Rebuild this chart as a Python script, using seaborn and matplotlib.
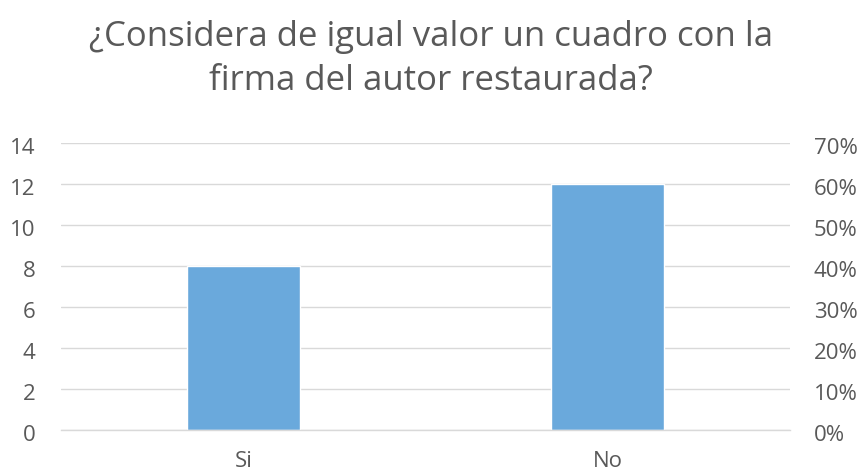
import matplotlib
matplotlib.use("Agg")
import matplotlib.pyplot as plt
import matplotlib.transforms as mtrans
import seaborn as sns
import pandas as pd
from matplotlib.ticker import FuncFormatter

categories = ["Si", "No"]
values = [8, 12]
left_ticks = [0, 2, 4, 6, 8, 10, 12, 14]
right_ticks = [0, 10, 20, 30, 40, 50, 60, 70]
title_lines = ["¿Considera de igual valor un cuadro con la", "firma del autor restaurada?"]

sns.set_theme(style="white")
plt.rcParams['font.family'] = ['Open Sans', 'DejaVu Sans']

df = pd.DataFrame({"cat": categories, "val": values})

W, H = 861, 475
fig = plt.figure(figsize=(W / 100, H / 100), dpi=100)
x0, x1 = 61, 790
y0, y1 = 430, 143
ax = fig.add_axes([x0 / W, 1 - y0 / H, (x1 - x0) / W, (y0 - y1) / H])

sns.barplot(data=df, x="cat", y="val", color="#6AA9DC", saturation=1, width=0.31, ax=ax)
ax.set_xlim(-0.5, 1.5)
ax.set_ylim(0, 14)
ax.set_yticks(left_ticks)
ax.set_xlabel("")
ax.set_ylabel("")
grey = "#595959"
ax.yaxis.grid(True, color="#D9D9D9", linewidth=1)
ax.set_axisbelow(True)
for s in ["top", "right", "left"]:
    ax.spines[s].set_visible(False)
ax.spines["bottom"].set_color("#D9D9D9")
ax.spines["bottom"].set_linewidth(1)
fs = 16
ax.tick_params(axis="y", length=0, labelsize=fs, labelcolor=grey, pad=18.5)
ax.tick_params(axis="x", length=0, labelsize=fs, labelcolor=grey, pad=15)

ax2 = ax.twinx()
ax2.set_ylim(0, 70)
ax2.set_yticks(right_ticks)
ax2.yaxis.set_major_formatter(FuncFormatter(lambda v, p: f"{int(v)}%"))
ax2.tick_params(axis="y", length=0, labelsize=fs, labelcolor=grey, pad=17)
for s in ["top", "right", "left", "bottom"]:
    ax2.spines[s].set_visible(False)

shift = mtrans.ScaledTranslation(0, -3 / 100, fig.dpi_scale_trans)
for lab in ax.get_yticklabels() + ax2.get_yticklabels():
    lab.set_transform(lab.get_transform() + shift)

for line, base in zip(title_lines, [46, 90]):
    fig.text(431 / W, 1 - base / H, line, ha="center", va="baseline", fontsize=25,
             color=grey)

fig.savefig("out.png", dpi=100)
